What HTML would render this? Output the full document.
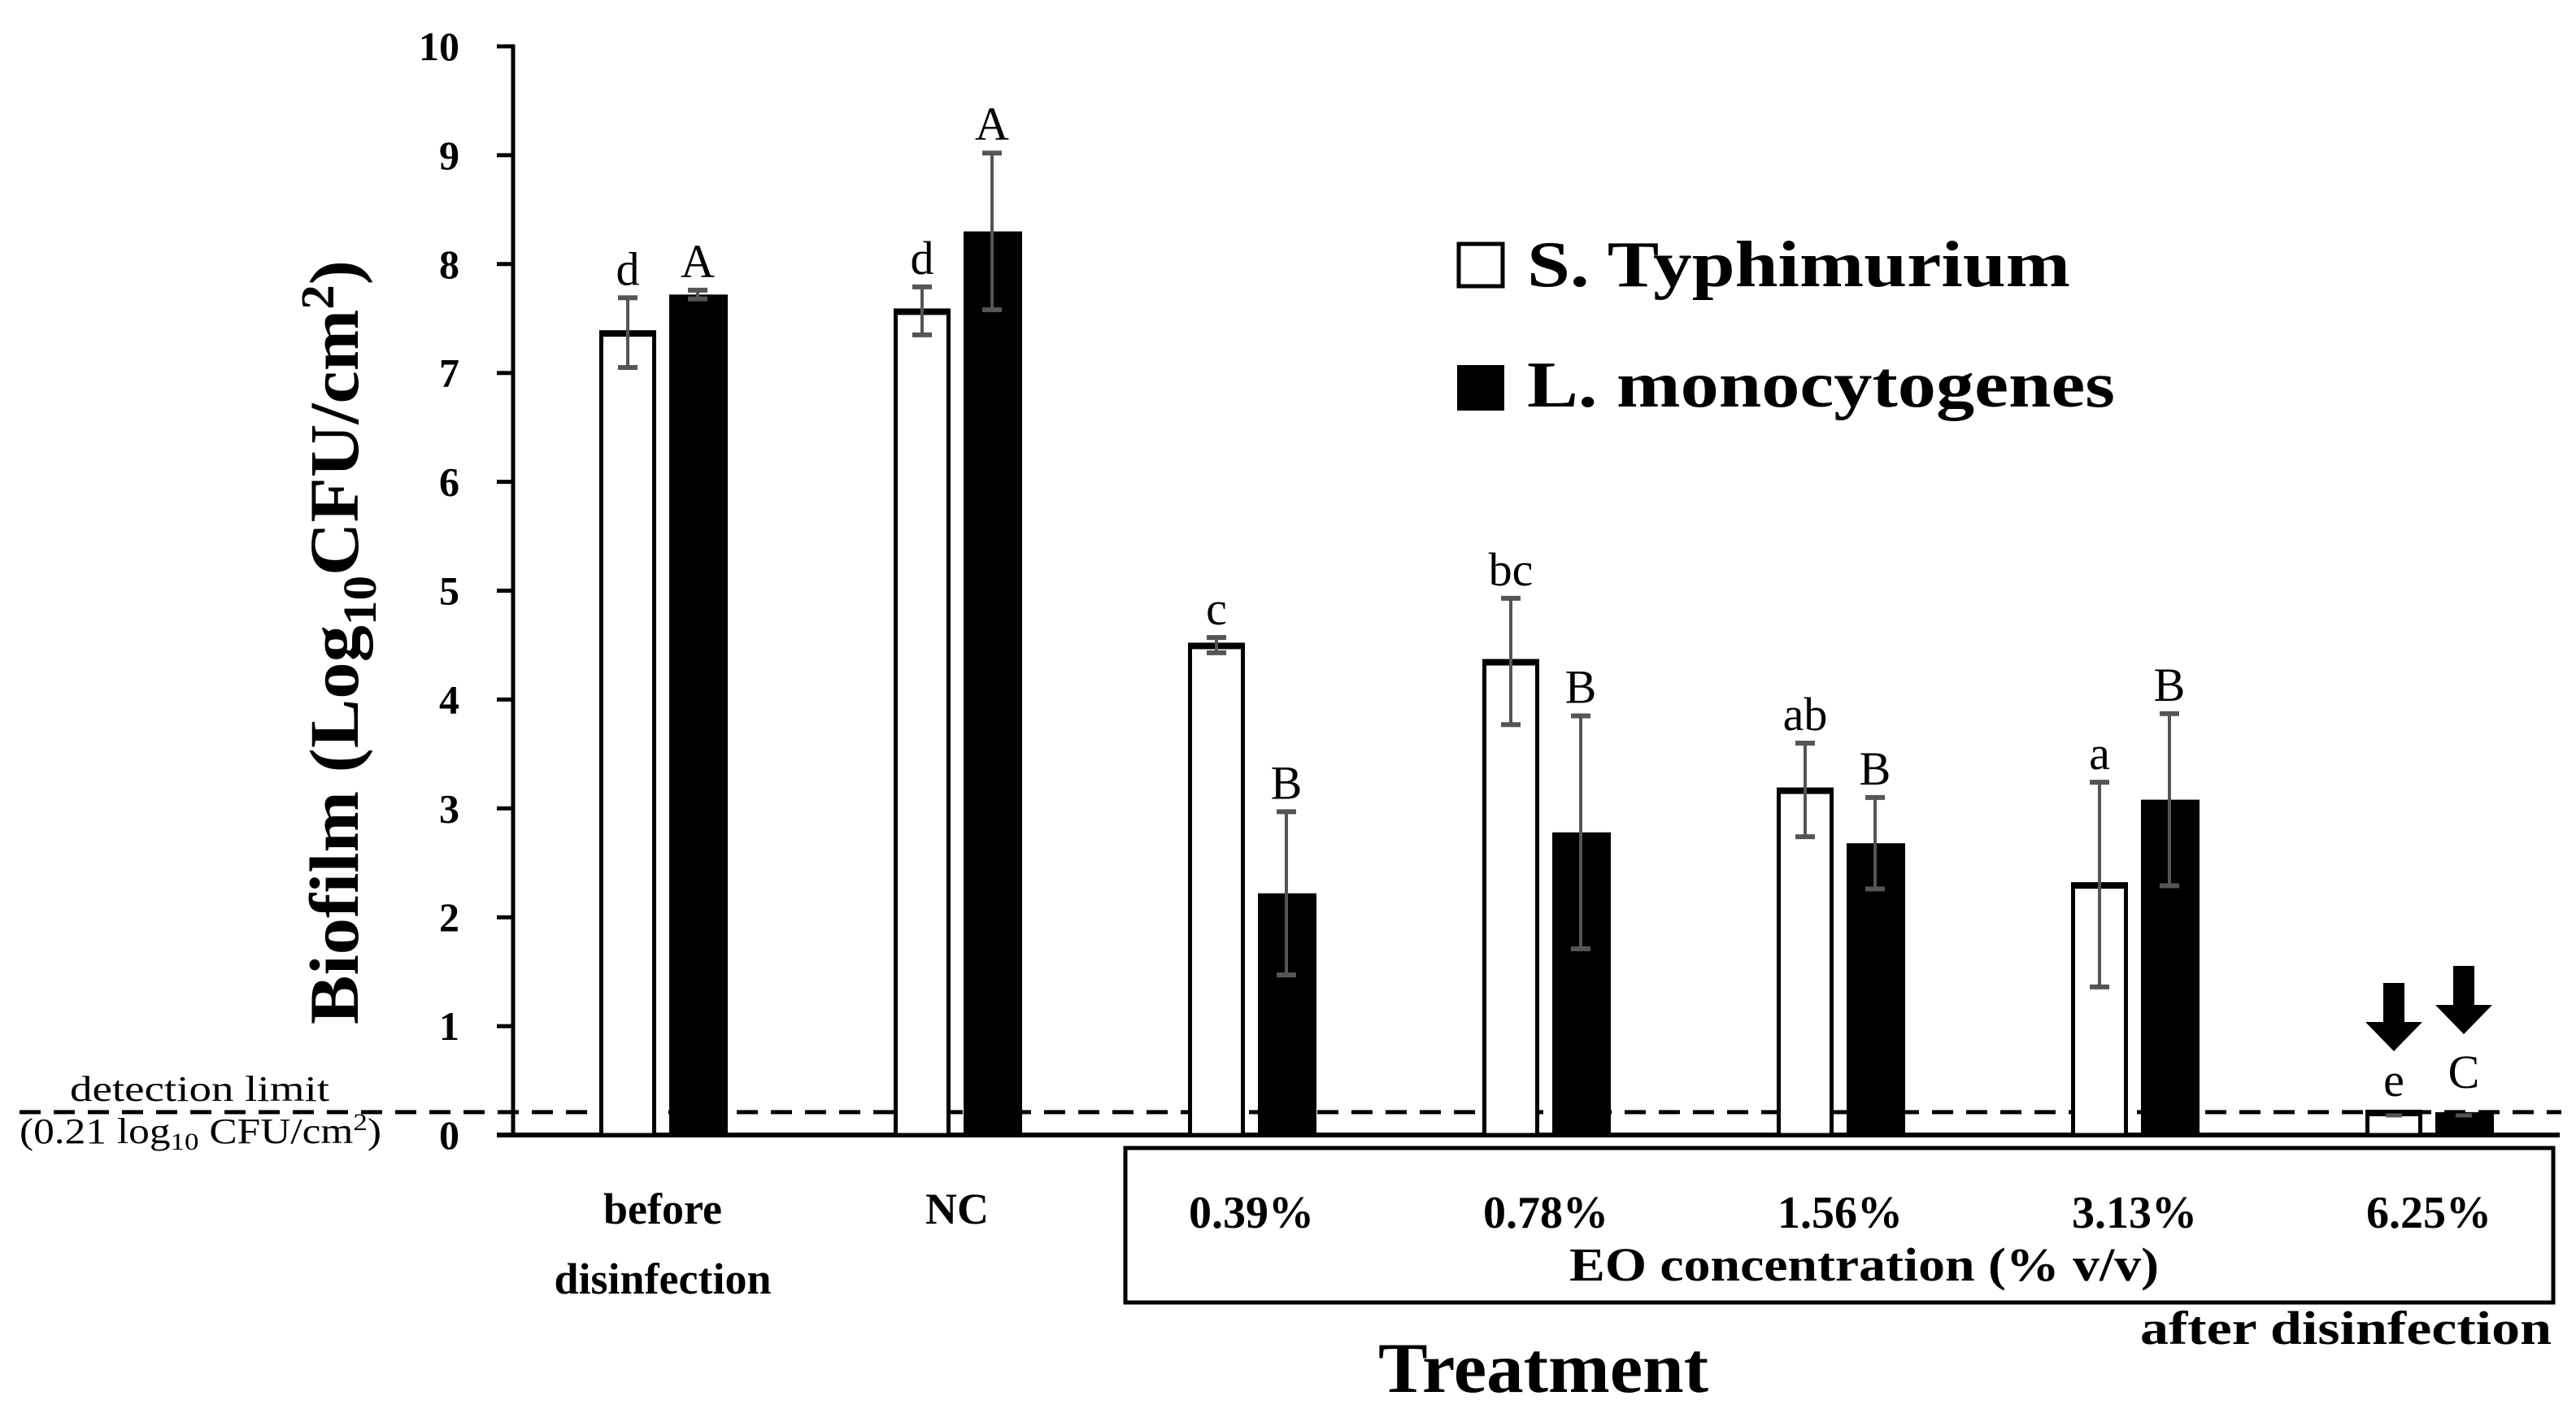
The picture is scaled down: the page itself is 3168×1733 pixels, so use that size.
<!DOCTYPE html>
<html><head><meta charset="utf-8"><style>
html,body{margin:0;padding:0;background:#fff;}
svg{display:block;font-family:"Liberation Serif",serif;}
</style></head><body>
<svg id="chart" width="3168" height="1733" viewBox="0 0 3168 1733" xmlns="http://www.w3.org/2000/svg">
<g id="axes"></g>
<g id="bars"></g>
<text transform="translate(440,790) rotate(-90)" text-anchor="middle" font-size="86" font-weight="bold" textLength="940" lengthAdjust="spacingAndGlyphs">Biofilm (Log<tspan font-size="58" dy="22">10</tspan><tspan dy="-22">CFU/cm</tspan><tspan font-size="58" dy="-30">2</tspan><tspan dy="30">)</tspan></text>
<g>
<rect x="1794" y="300" width="54" height="52" fill="#fff" stroke="#000" stroke-width="5"/>
<text x="1878" y="352" font-size="80" font-weight="bold" textLength="668" lengthAdjust="spacingAndGlyphs">S. Typhimurium</text>
<rect x="1792" y="449" width="58" height="56" fill="#000"/>
<text x="1878" y="500" font-size="80" font-weight="bold" textLength="723" lengthAdjust="spacingAndGlyphs">L. monocytogenes</text>
</g>
<text x="86" y="1354" font-size="44" textLength="319" lengthAdjust="spacingAndGlyphs">detection limit</text>
<text x="24" y="1406" font-size="44" textLength="445" lengthAdjust="spacingAndGlyphs">(0.21 log<tspan font-size="30" dy="8">10</tspan><tspan dy="-8"> CFU/cm</tspan><tspan font-size="30" dy="-16">2</tspan><tspan dy="16">)</tspan></text>
<rect x="1384" y="1412" width="1756" height="190" fill="none" stroke="#000" stroke-width="5"/>
<text x="1930" y="1575" font-size="58" font-weight="bold" textLength="725" lengthAdjust="spacingAndGlyphs">EO concentration (% v/v)</text>
<text x="2632" y="1653" font-size="58" font-weight="bold" textLength="506" lengthAdjust="spacingAndGlyphs">after disinfection</text>
<text x="1695" y="1712" font-size="88" font-weight="bold" textLength="406" lengthAdjust="spacingAndGlyphs">Treatment</text>
</svg>
<script>
const categories = ["before disinfection","NC","0.39%","0.78%","1.56%","3.13%","6.25%"];
const sValues = [7.37,7.57,4.50,4.35,3.17,2.30,0.21];
const sErrors = [0.32,0.22,0.07,0.58,0.43,0.94,0];
const lValues = [7.72,8.30,2.22,2.78,2.68,3.08,0.21];
const lErrors = [0.04,0.72,0.75,1.07,0.42,0.79,0];
const sLetters = ["d","d","c","bc","ab","a","e"];
const lLetters = ["A","A","B","B","B","B","C"];
const yTicks = [0,1,2,3,4,5,6,7,8,9,10];
const detectionLimit = 0.21;

const NS="http://www.w3.org/2000/svg";
const y0=1396, unit=133.9;
function yScale(v){return y0-v*unit;}
function xGroup(i){return 737+i*362;}
const barW=70, offset=86;
function mk(tag,attrs,parent){const e=document.createElementNS(NS,tag);for(const k in attrs)e.setAttribute(k,attrs[k]);parent.appendChild(e);return e;}
const axes=document.getElementById('axes'), bars=document.getElementById('bars');

yTicks.forEach(t=>{
  const tk=mk('line',{x1:611,x2:633,y1:yScale(t),y2:yScale(t),stroke:'#000','stroke-width':5},axes);
  
  
  const lb=mk('text',{x:565,y:yScale(t)+17,'text-anchor':'end','font-size':50,'font-weight':'bold'},axes);
  lb.textContent=t;
  
  
});
const ya=mk('line',{x1:631,x2:631,y1:yScale(10)-2,y2:y0+3,stroke:'#000','stroke-width':5},axes);


const xa=mk('line',{x1:611,x2:3148,y1:y0,y2:y0,stroke:'#000','stroke-width':6},axes);



function errBar(cx,v,e){
  if(e<=0){
    const c=mk('line',{x1:cx-10,x2:cx+10,y1:yScale(v)+4,y2:yScale(v)+4,stroke:'#555','stroke-width':5},bars);
    
    
    return yScale(v);
  }
  const g=mk('g',{stroke:'#555','stroke-width':4},bars);
  
  
  mk('line',{x1:cx,x2:cx,y1:yScale(v+e),y2:yScale(v-e)},g);
  mk('line',{x1:cx-12,x2:cx+12,y1:yScale(v+e),y2:yScale(v+e),'stroke-width':6},g);
  mk('line',{x1:cx-12,x2:cx+12,y1:yScale(v-e),y2:yScale(v-e),'stroke-width':6},g);
  return yScale(v+e);
}

categories.forEach((c,i)=>{
  const xs=xGroup(i), xl=xs+offset;
  const sb=mk('rect',{x:xs+2.5,y:yScale(sValues[i]),width:barW-5,height:y0-yScale(sValues[i]),fill:'#fff',stroke:'#000','stroke-width':5},bars);
  
  
  const st=mk('rect',{x:xs,y:yScale(sValues[i])-3,width:barW,height:8,fill:'#000'},bars);
  
  
  const lbar=mk('rect',{x:xl,y:yScale(lValues[i]),width:barW+2,height:y0-yScale(lValues[i]),fill:'#000'},bars);
  
  
  const ts=errBar(xs+barW/2,sValues[i],sErrors[i]);
  const tl=errBar(xl+barW/2,lValues[i],lErrors[i]);
  const isLast=i===categories.length-1;
  const s1=mk('text',{x:xs+barW/2,y:isLast?1348:ts-16,'text-anchor':'middle','font-size':58},bars);
  s1.textContent=sLetters[i];
  
  
  const s2=mk('text',{x:xl+barW/2,y:isLast?1338:tl-16,'text-anchor':'middle','font-size':58},bars);
  s2.textContent=lLetters[i];
  
  
  const cx=xs+78;
  if(i<2){
    const parts=c==="before disinfection"?["before","disinfection"]:[c];
    parts.forEach((p,j)=>{
      const t=mk('text',{x:cx,y:1505+j*86,'text-anchor':'middle','font-size':54,'font-weight':'bold'},axes);
      t.textContent=p;
      
      
    });
  } else {
    const t=mk('text',{x:cx,y:1510,'text-anchor':'middle','font-size':56,'font-weight':'bold'},axes);
    t.textContent=c;
    
    
  }
  if(isLast){
    [[xs+barW/2,1209],[xl+barW/2,1188]].forEach(([ax,ay])=>{
      const a=mk('path',{d:`M${ax-13},${ay} L${ax+13},${ay} L${ax+13},${ay+48} L${ax+35},${ay+48} L${ax},${ay+84} L${ax-35},${ay+48} L${ax-13},${ay+48} Z`,fill:'#000'},bars);
      
      
    });
  }
});
const dl=mk('line',{x1:24,x2:3150,y1:yScale(detectionLimit),y2:yScale(detectionLimit),stroke:'#000','stroke-width':5,'stroke-dasharray':'26 16'},axes);


</script>
</body></html>
